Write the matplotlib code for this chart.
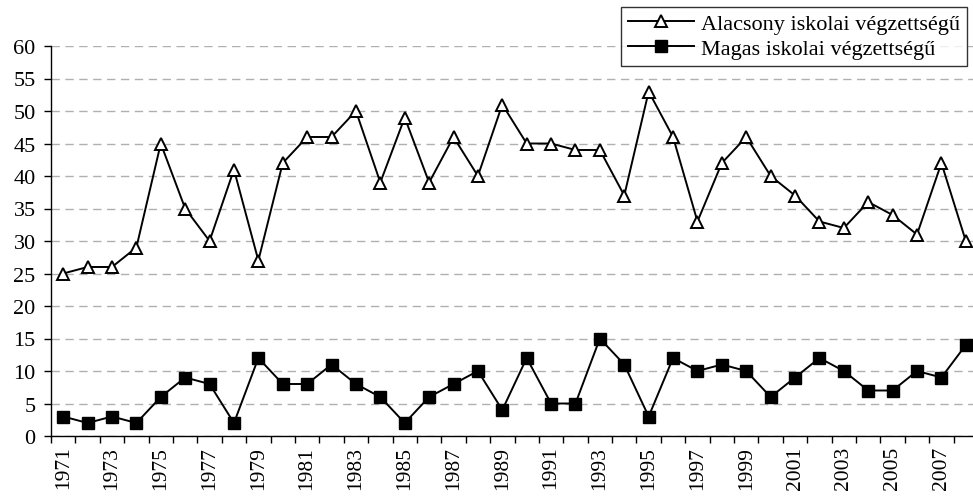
import numpy as np
import matplotlib.pyplot as plt

evek = list(range(1971, 2009))
alacsony = [25, 26, 26, 29, 45, 35, 30, 41, 27, 42, 46, 46, 50, 39, 49, 39, 46, 40, 51,
            45, 45, 44, 44, 37, 53, 46, 33, 42, 46, 40, 37, 33, 32, 36, 34, 31, 42, 30]
magas = [3, 2, 3, 2, 6, 9, 8, 2, 12, 8, 8, 11, 8, 6, 2, 6, 8, 10, 4,
         12, 5, 5, 15, 11, 3, 12, 10, 11, 10, 6, 9, 12, 10, 7, 7, 10, 9, 14]
y_ticks = list(range(0, 61, 5))

plt.rcParams['font.family'] = ['Liberation Serif', 'DejaVu Serif']

fig = plt.figure(figsize=(9.73, 5.02), dpi=100)
ax = fig.add_axes([51 / 973, 65 / 502, 927 / 973, 390 / 502])

x = np.arange(len(evek))
ax.plot(x, alacsony, color='black', lw=1.4, marker='^', ms=9, mfc='white',
        mec='black', mew=1.4, label='Alacsony iskolai végzettségű', clip_on=False)
ax.plot(x, magas, color='black', lw=1.4, marker='s', ms=8, mfc='black',
        mec='black', label='Magas iskolai végzettségű', clip_on=False)

ax.set_ylim(0, 60)
ax.set_yticks(y_ticks)
ax.set_xlim(-0.5, len(evek) - 0.5)
ax.set_xticks(x[::2])
ax.set_xticklabels([str(e) for e in evek[::2]], rotation=90, fontsize=15.5)
ax.set_xticks(np.arange(-0.5, len(evek)), minor=True)
ax.tick_params(axis='x', which='major', length=0, pad=7)
ax.tick_params(axis='x', which='minor', length=5, width=1, direction='out')
ax.tick_params(axis='y', length=5, width=1, labelsize=16, pad=6)

ax.yaxis.grid(True, color='#b0b0b0', ls=(0, (6, 4)), lw=1)
ax.set_axisbelow(True)
for s in ['top', 'right']:
    ax.spines[s].set_visible(False)
ax.spines['left'].set_linewidth(1)
ax.spines['bottom'].set_linewidth(1)

leg = fig.legend(loc='upper left', bbox_to_anchor=(621 / 973, 1 - 8 / 502),
                 fontsize=16, frameon=True, fancybox=False, edgecolor='black',
                 handlelength=3.0, handletextpad=0.3, borderpad=0.3,
                 labelspacing=0.2, borderaxespad=0)
leg.get_frame().set_linewidth(1)

fig.savefig('out.png', dpi=100)
